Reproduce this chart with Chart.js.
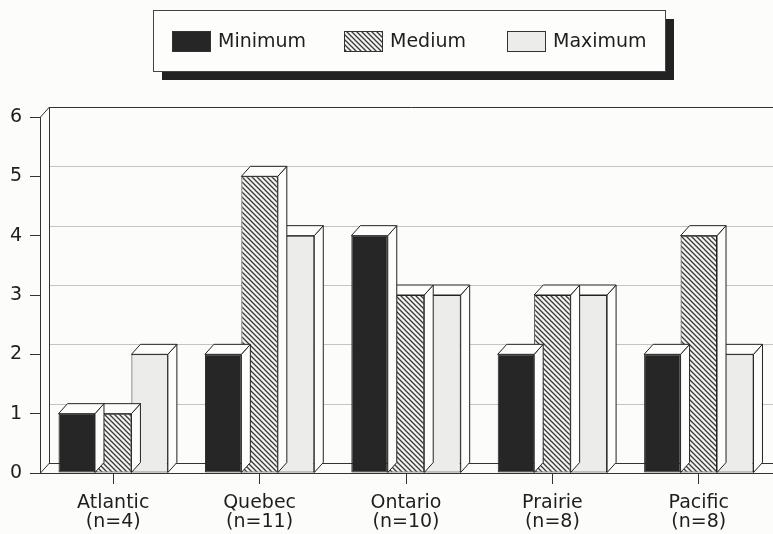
<!DOCTYPE html>
<html>
<head>
<meta charset="utf-8">
<script src="https://cdn.jsdelivr.net/npm/chart.js@4/dist/chart.umd.min.js"></script>
<style>
  html, body { margin: 0; padding: 0; background: #fcfcfa; }
  #wrap { width: 773px; height: 534px; }
</style>
</head>
<body>
<div id="wrap"><canvas id="chart" width="773" height="534"></canvas></div>
<script>
// Regions and sample sizes shown under each group
const regions = ['Atlantic', 'Quebec', 'Ontario', 'Prairie', 'Pacific'];
const sampleSizes = ['(n=4)', '(n=11)', '(n=10)', '(n=8)', '(n=8)'];

// Series values per region
const minimum = [1, 2, 4, 2, 2];
const medium  = [1, 5, 3, 3, 4];
const maximum = [2, 4, 3, 3, 2];

// Y axis range
const yTicks = [0, 1, 2, 3, 4, 5, 6];

const FONT = 'DejaVu Sans';
const INK = '#222';
const TEXT = '#1e1e1e';
const BG = '#fcfcfa';
const DEPTH_X = 9;
const DEPTH_Y = 10;

// Diagonal hatch used for the "Medium" series
function makeHatch() {
  const s = 5;
  const c = document.createElement('canvas');
  c.width = s; c.height = s;
  const g = c.getContext('2d');
  g.fillStyle = '#f4f4f2';
  g.fillRect(0, 0, s, s);
  g.strokeStyle = '#3a3a3a';
  g.lineWidth = 1.3;
  g.beginPath();
  g.moveTo(-1, -1); g.lineTo(s + 1, s + 1);
  g.moveTo(-1, s - 1); g.lineTo(1, s + 1);
  g.moveTo(s - 1, -1); g.lineTo(s + 1, 1);
  g.stroke();
  return g.createPattern(c, 'repeat');
}
const hatch = makeHatch();

// Back wall, floor and left wall of the 3D frame
const framePlugin = {
  id: 'frame',
  beforeDraw(chart) {
    const { ctx, width, height } = chart;
    ctx.save();
    ctx.fillStyle = BG;
    ctx.fillRect(0, 0, width, height);
    ctx.restore();
  },
  beforeDatasetsDraw(chart) {
    const { ctx, chartArea: a, scales: { y } } = chart;
    const L = a.left, R = a.right + 10;
    ctx.save();
    // back grid lines
    ctx.strokeStyle = '#c4c4c2';
    ctx.lineWidth = 1;
    yTicks.forEach(v => {
      if (v === 0 || v === yTicks[yTicks.length - 1]) return;
      const py = Math.round(y.getPixelForValue(v) - DEPTH_Y) + 0.5;
      ctx.beginPath();
      ctx.moveTo(L + DEPTH_X, py);
      ctx.lineTo(R, py);
      ctx.stroke();
    });
    ctx.strokeStyle = '#333';
    const top = y.getPixelForValue(yTicks[yTicks.length - 1]);
    const bot = y.getPixelForValue(0);
    ctx.beginPath();
    // front axis line
    ctx.moveTo(L + 0.5, top); ctx.lineTo(L + 0.5, bot);
    // back wall left edge
    ctx.moveTo(L + DEPTH_X + 0.5, top - DEPTH_Y); ctx.lineTo(L + DEPTH_X + 0.5, bot - DEPTH_Y);
    // back wall top edge
    ctx.moveTo(L + DEPTH_X, top - DEPTH_Y + 0.5); ctx.lineTo(R, top - DEPTH_Y + 0.5);
    // top and bottom diagonals of the side wall
    ctx.moveTo(L + 0.5, top); ctx.lineTo(L + DEPTH_X + 0.5, top - DEPTH_Y);
    ctx.moveTo(L + 0.5, bot); ctx.lineTo(L + DEPTH_X + 0.5, bot - DEPTH_Y);
    // floor back edge
    ctx.moveTo(L + DEPTH_X, bot - DEPTH_Y + 0.5); ctx.lineTo(R, bot - DEPTH_Y + 0.5);
    ctx.stroke();
    ctx.restore();
  },
  afterDatasetDraw(chart, args) {
    // top and side faces for the bars of this dataset
    const { ctx } = chart;
    const meta = args.meta;
    ctx.save();
    ctx.strokeStyle = INK;
    ctx.lineWidth = 1;
    ctx.lineJoin = 'miter';
    meta.data.forEach(bar => {
      const p = bar.getProps(['x', 'y', 'base', 'width'], true);
      const l = p.x - p.width / 2, r = p.x + p.width / 2;
      const t = p.y, b = p.base;
      ctx.fillStyle = '#fdfdfb';
      // side
      ctx.beginPath();
      ctx.moveTo(r, t); ctx.lineTo(r + DEPTH_X, t - DEPTH_Y);
      ctx.lineTo(r + DEPTH_X, b - DEPTH_Y); ctx.lineTo(r, b);
      ctx.closePath();
      ctx.fill(); ctx.stroke();
      // top
      ctx.beginPath();
      ctx.moveTo(l, t); ctx.lineTo(l + DEPTH_X, t - DEPTH_Y);
      ctx.lineTo(r + DEPTH_X, t - DEPTH_Y); ctx.lineTo(r, t);
      ctx.closePath();
      ctx.fill(); ctx.stroke();
    });
    ctx.restore();
  },
  afterDatasetsDraw(chart) {
    const { ctx, chartArea: a } = chart;
    ctx.save();
    ctx.strokeStyle = '#333';
    ctx.lineWidth = 1;
    ctx.beginPath();
    ctx.moveTo(a.left, Math.round(a.bottom) + 0.5);
    ctx.lineTo(a.right + 10, Math.round(a.bottom) + 0.5);
    ctx.stroke();
    ctx.restore();
  }
};

// Boxed legend with a drop shadow
const legendBoxPlugin = {
  id: 'legendBox',
  afterDraw(chart) {
    const { ctx } = chart;
    const bx = 153, by = 10, bw = 512, bh = 61;
    ctx.save();
    ctx.fillStyle = '#222';
    ctx.fillRect(bx + 9, by + 9, bw, bh);
    ctx.fillStyle = '#fdfdfb';
    ctx.fillRect(bx, by, bw, bh);
    ctx.strokeStyle = '#444';
    ctx.lineWidth = 1;
    ctx.strokeRect(bx + 0.5, by + 0.5, bw, bh);
    const swatchX = [172, 344, 507];
    ctx.font = '19px "' + FONT + '"';
    ctx.textBaseline = 'middle';
    chart.data.datasets.forEach((ds, i) => {
      const sx = swatchX[i], sy = 31;
      ctx.fillStyle = ds.backgroundColor;
      ctx.fillRect(sx, sy, 38, 20);
      ctx.strokeStyle = '#333';
      ctx.strokeRect(sx + 0.5, sy + 0.5, 38, 20);
      ctx.fillStyle = TEXT;
      ctx.fillText(ds.label, sx + 46, sy + 11);
    });
    ctx.restore();
  }
};

new Chart(document.getElementById('chart'), {
  type: 'bar',
  data: {
    labels: regions.map((r, i) => [r, sampleSizes[i]]),
    datasets: [
      { label: 'Minimum', data: minimum, backgroundColor: '#262626' },
      { label: 'Medium',  data: medium,  backgroundColor: hatch },
      { label: 'Maximum', data: maximum, backgroundColor: '#ececea' }
    ]
  },
  options: {
    responsive: false,
    animation: false,
    events: [],
    layout: { padding: { top: 117, right: 1, left: 0, bottom: 0 } },
    datasets: {
      bar: {
        categoryPercentage: 0.747,
        barPercentage: 1,
        borderWidth: 1,
        borderColor: INK,
        borderSkipped: false
      }
    },
    plugins: {
      legend: { display: false },
      tooltip: { enabled: false }
    },
    scales: {
      x: {
        afterFit(scale) { scale.height = 61; },
        border: { display: false },
        grid: {
          offset: false,
          drawOnChartArea: false,
          drawTicks: true,
          tickLength: 11,
          color: '#333'
        },
        ticks: {
          color: TEXT,
          padding: 10,
          maxRotation: 0,
          autoSkip: false,
          font: { family: FONT, size: 19, lineHeight: 1.0 }
        }
      },
      y: {
        min: 0,
        max: 6,
        afterFit(scale) { scale.width = 40; },
        border: { display: false },
        grid: {
          drawOnChartArea: false,
          drawTicks: true,
          tickLength: 10,
          color: '#333'
        },
        ticks: {
          stepSize: 1,
          color: TEXT,
          padding: 8,
          font: { family: FONT, size: 19 }
        }
      }
    }
  },
  plugins: [framePlugin, legendBoxPlugin]
});
</script>
</body>
</html>
